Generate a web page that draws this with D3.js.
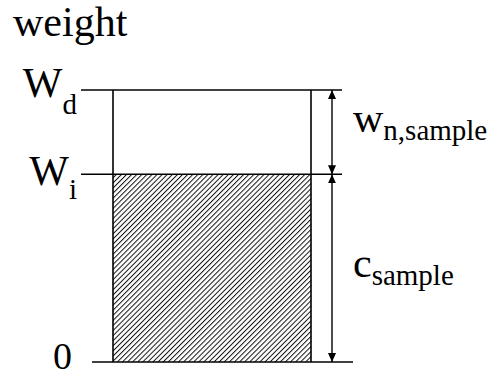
<!DOCTYPE html>
<html>
<head>
<meta charset="UTF-8">
<style>
  body { margin: 0; background: #fff; }
  text { font-family: "Liberation Serif", "Times New Roman", serif !important; }
</style>
</head>
<body>
<script src="https://d3js.org/d3.v7.min.js"></script>
<script>

const width = 491;
const height = 378;
const serifFont = "Liberation Serif";

// levels on the weight axis (fraction of Wd)
const levelNames = ["0", "W", "W"];
const levelSubs = ["", "i", "d"];
const levelValues = [0, 0.69, 1];

// dimension arrows: from / to value, label and subscript
const dimFrom = [0.69, 0];
const dimTo = [1, 0.69];
const dimNames = ["w", "c"];
const dimSubs = ["n,sample", "sample"];

const axisTitle = "weight";

const y = d3.scaleLinear().domain([0, 1]).range([362, 90]);

const svg = d3.select("body").append("svg")
  .attr("width", width)
  .attr("height", height);

const defs = svg.append("defs");

// diagonal hatch for the filled part
defs.append("pattern")
  .attr("id", "hatch")
  .attr("patternUnits", "userSpaceOnUse")
  .attr("width", 3.6)
  .attr("height", 3.6)
  .attr("patternTransform", "rotate(45)")
  .append("line")
  .attr("x1", 0).attr("y1", 0)
  .attr("x2", 0).attr("y2", 3.6)
  .attr("stroke", "#111")
  .attr("stroke-width", 2);

// arrow head
["start", "end"].forEach(k => {
  defs.append("marker")
    .attr("id", "arrow-" + k)
    .attr("markerUnits", "userSpaceOnUse")
    .attr("viewBox", "0 0 9 8")
    .attr("refX", 9).attr("refY", 4)
    .attr("markerWidth", 9).attr("markerHeight", 8)
    .attr("orient", k == "end" ? "auto" : "auto-start-reverse")
    .append("path")
    .attr("d", "M0,0 L9,4 L0,8 Z")
    .attr("fill", "#000");
});

function label(x, yPos, size, str, anchor) {
  return svg.append("text")
    .attr("x", x)
    .attr("y", yPos)
    .attr("text-anchor", anchor || "start")
    .attr("font-family", serifFont)
    .attr("font-size", size)
    .text(str);
}

const boxLeft = 113, boxRight = 311;
const arrowX = 332;

// hatched bar from 0 up to Wi
svg.append("rect")
  .attr("x", boxLeft)
  .attr("y", y(levelValues[1]))
  .attr("width", boxRight - boxLeft)
  .attr("height", y(0) - y(levelValues[1]))
  .attr("fill", "url(#hatch)");

// box sides
[boxLeft, boxRight].forEach(x => {
  svg.append("line")
    .attr("x1", x).attr("x2", x)
    .attr("y1", y(1)).attr("y2", y(0))
    .attr("stroke", "#000").attr("stroke-width", 1.6);
});

// level lines
svg.selectAll(".level")
  .data(levelValues)
  .enter().append("line")
  .attr("class", "level")
  .attr("x1", (d, i) => i == 0 ? 92 : 81)
  .attr("x2", (d, i) => i == 0 ? 353 : 342)
  .attr("y1", d => y(d))
  .attr("y2", d => y(d))
  .attr("stroke", "#000")
  .attr("stroke-width", 1.6);

// level labels: main letter ends at the subscript, subscript ends near the line
levelValues.forEach((v, i) => {
  if (i == 0) {
    label(72, y(v) + 7, 38, levelNames[i], "end");
    return;
  }
  const base = y(v) + (i == 2 ? 7 : 11);
  const sub = label(77, base + (i == 2 ? 17 : 14), 29, levelSubs[i], "end");
  const subW = sub.node().getComputedTextLength();
  label(77 - subW, base, 42, levelNames[i], "end");
});

// dimension arrows
dimFrom.forEach((v, i) => {
  svg.append("line")
    .attr("x1", arrowX).attr("x2", arrowX)
    .attr("y1", y(dimTo[i])).attr("y2", y(v))
    .attr("stroke", "#000").attr("stroke-width", 1.4)
    .attr("marker-start", "url(#arrow-start)")
    .attr("marker-end", "url(#arrow-end)");

  const mid = (y(dimTo[i]) + y(v)) / 2;
  const base = mid + (i == 0 ? 0 : 9);
  const main = label(353, base, 42, dimNames[i]);
  const mainW = main.node().getComputedTextLength();
  label(353 + mainW, base + 8, 29, dimSubs[i]);
});

// axis title
label(13, 36, 42, axisTitle);

</script>
</body>
</html>
